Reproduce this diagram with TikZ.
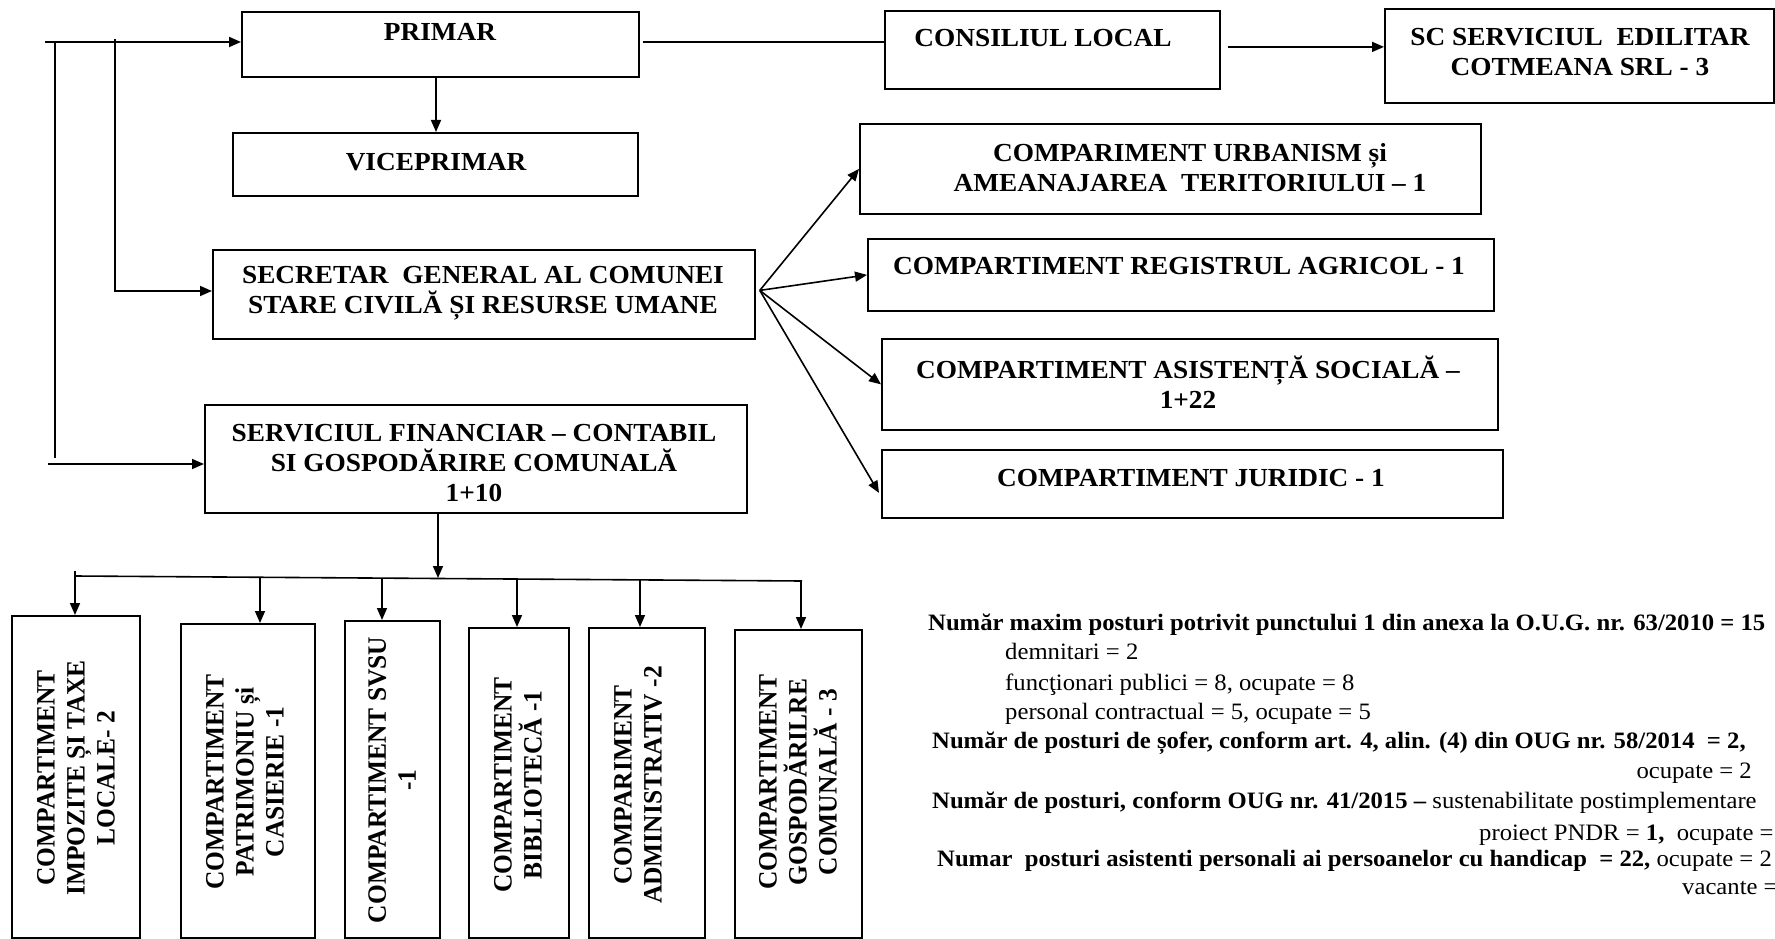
\documentclass[tikz,border=0pt]{standalone}
\usepackage{fontspec}
\setmainfont{Liberation Serif}[FakeStretch=1.05]
\newfontfamily\rotfont{Liberation Serif}[FakeStretch=0.96]
\usetikzlibrary{arrows.meta,calc}
\tikzset{
  box/.style={draw, line width=1.8pt, inner sep=0pt, anchor=north west},
  btxt/.style={font=\fontsize{26}{30}\selectfont\bfseries, align=center, inner sep=0pt},
  rtxt/.style={font=\rotfont\fontsize{26.5}{30}\selectfont\bfseries, align=center, inner sep=0pt, rotate=90},
  ntxt/.style={font=\fontsize{23.5}{29}\selectfont, inner sep=0pt, anchor=base west},
  conn/.style={line width=1.6pt},
  arr/.style={line width=1.6pt, -{Triangle[length=12pt,width=10pt]}}
}
\begin{document}
\begin{tikzpicture}[x=1pt,y=-1pt]
\useasboundingbox (0,0) rectangle (1775,939);
% ---- boxes ----
\node[box, minimum width=397pt, minimum height=65pt] (primar) at (241,11) {};
\node[box, minimum width=405pt, minimum height=63pt] (vice) at (232,132) {};
\node[box, minimum width=335pt, minimum height=78pt] (consiliu) at (884,10) {};
\node[box, minimum width=389pt, minimum height=94pt] (sc) at (1384,8) {};
\node[box, minimum width=621pt, minimum height=90pt] (urb) at (859,123) {};
\node[box, minimum width=626pt, minimum height=72pt] (reg) at (867,238) {};
\node[box, minimum width=616pt, minimum height=91pt] (asis) at (881,338) {};
\node[box, minimum width=621pt, minimum height=68pt] (jur) at (881,449) {};
\node[box, minimum width=542pt, minimum height=89pt] (sec) at (212,249) {};
\node[box, minimum width=542pt, minimum height=108pt] (fin) at (204,404) {};
\node[box, minimum width=128pt, minimum height=322pt] (c1) at (11,615) {};
\node[box, minimum width=134pt, minimum height=314pt] (c2) at (180,623) {};
\node[box, minimum width=95pt, minimum height=317pt] (c3) at (344,620) {};
\node[box, minimum width=100pt, minimum height=310pt] (c4) at (468,627) {};
\node[box, minimum width=116pt, minimum height=310pt] (c5) at (588,627) {};
\node[box, minimum width=127pt, minimum height=308pt] (c6) at (734,629) {};
% ---- box texts ----
\node[btxt] (tprimar) at (440,32) {PRIMAR};
\node[btxt] (tvice) at (436,162) {VICEPRIMAR};
\node[btxt] (tcons) at (1043,38) {CONSILIUL LOCAL};
\node[btxt] (tsc) at (1580,52) {SC SERVICIUL~ EDILITAR\\COTMEANA SRL - 3};
\node[btxt] (turb) at (1190,168) {COMPARIMENT URBANISM și\\AMEANAJAREA~ TERITORIULUI – 1};
\node[btxt] (treg) at (1179,266) {COMPARTIMENT REGISTRUL AGRICOL - 1};
\node[btxt] (tasis) at (1188,382) {COMPARTIMENT ASISTENȚĂ SOCIALĂ –\\1+22};
\node[btxt] (tjur) at (1191,478) {COMPARTIMENT JURIDIC - 1};
\node[btxt] (tsec) at (483,293) {SECRETAR~ GENERAL AL COMUNEI\\STARE CIVILĂ ȘI RESURSE UMANE};
\node[btxt] (tfin) at (474,463) {SERVICIUL FINANCIAR – CONTABIL\\SI GOSPODĂRIRE COMUNALĂ\\1+10};
\node[rtxt] (tc1) at (76,778) {COMPARTIMENT\\IMPOZITE ȘI TAXE\\LOCALE- 2};
\node[rtxt] (tc2) at (245,782) {COMPARTIMENT\\PATRIMONIU și\\CASIERIE -1};
\node[rtxt] (tc3) at (392,780) {COMPARTIMENT SVSU\\-1};
\node[rtxt] (tc4) at (518,785) {COMPARTIMENT\\BIBLIOTECĂ -1};
\node[rtxt] (tc5) at (638,785) {COMPARIMENT\\ADMINISTRATIV -2};
\node[rtxt] (tc6) at (798,782) {COMPARTIMENT\\GOSPODĂRILRE\\COMUNALĂ - 3};
% ---- connectors (top) ----
\coordinate (m0) at (45,42);
\draw[arr, line width=1.9pt] (m0) -- (m0 -| primar.west);
\coordinate (pc) at (643,42);
\draw[conn, line width=1.9pt] (pc) -- (pc -| consiliu.west);
\coordinate (cs) at ($(consiliu.east)+(7,-3)$);
\draw[arr] (cs) -- (cs -| sc.west);
\coordinate (pv) at (436,78);
\draw[arr] (pv) -- (pv |- vice.north);
% left rails
\coordinate (la) at (55,42);
\coordinate (la2) at (55,458);
\draw[conn] (la) -- (la2);
\coordinate (fa) at (48,464);
\draw[arr] (fa) -- (fa -| fin.west);
\coordinate (lb) at (115,39);
\coordinate (lb2) at (115,291);
\draw[arr] (lb) -- (lb2) -- (lb2 -| sec.west);
% secretar fan
\coordinate (so) at ($(sec.east)+(4,-4)$);
\draw[arr] (so) -- (urb.west);
\draw[arr] (so) -- (reg.west);
\draw[arr] (so) -- (asis.west);
\draw[arr] (so) -- ($(jur.west)+(-2,9)$);
% financiar bus
\coordinate (fb) at (438,578);
\draw[arr] (fb |- fin.south) -- (fb);
\coordinate (busL) at (75,576);
\coordinate (busR) at (802,581);
\draw[conn] (busL) -- (busR);
\coordinate (d1) at (75,571);
\coordinate (d2) at (260,577.3);
\coordinate (d3) at (382,578.1);
\coordinate (d4) at (517,579);
\coordinate (d5) at (640,579.9);
\coordinate (d6) at (801,581);
\draw[arr] (d1) -- (d1 |- c1.north);
\draw[arr] (d2) -- (d2 |- c2.north);
\draw[arr] (d3) -- (d3 |- c3.north);
\draw[arr] (d4) -- (d4 |- c4.north);
\draw[arr] (d5) -- (d5 |- c5.north);
\draw[arr] (d6) -- (d6 |- c6.north);
% ---- notes ----
\node[ntxt] (n1) at (928,630) {\bfseries Număr maxim posturi potrivit punctului 1 din anexa la O.U.G. nr. 63/2010 = 15};
\node[ntxt] (n2) at (1005,659) {demnitari = 2};
\node[ntxt] (n3) at (1005,690) {funcţionari publici = 8, ocupate = 8};
\node[ntxt] (n4) at (1005,719) {personal contractual = 5, ocupate = 5};
\node[ntxt] (n5) at (932,748) {\bfseries Număr de posturi de șofer, conform art. 4, alin. (4) din OUG nr. 58/2014~ = 2,};
\node[ntxt, anchor=base east] (n6) at (1752,778) {ocupate = 2};
\node[ntxt] (n7) at (932,808) {\textbf{Număr de posturi, conform OUG nr. 41/2015 –} sustenabilitate postimplementare};
\node[ntxt] (n8) at (1479,840) {proiect PNDR = \textbf{1,}~ ocupate =};
\node[ntxt] (n9) at (937,866) {\textbf{Numar~ posturi asistenti personali ai persoanelor cu handicap~ = 22,} ocupate = 2};
\node[ntxt] (n10) at (1682,894) {vacante =};
\end{tikzpicture}
\end{document}
